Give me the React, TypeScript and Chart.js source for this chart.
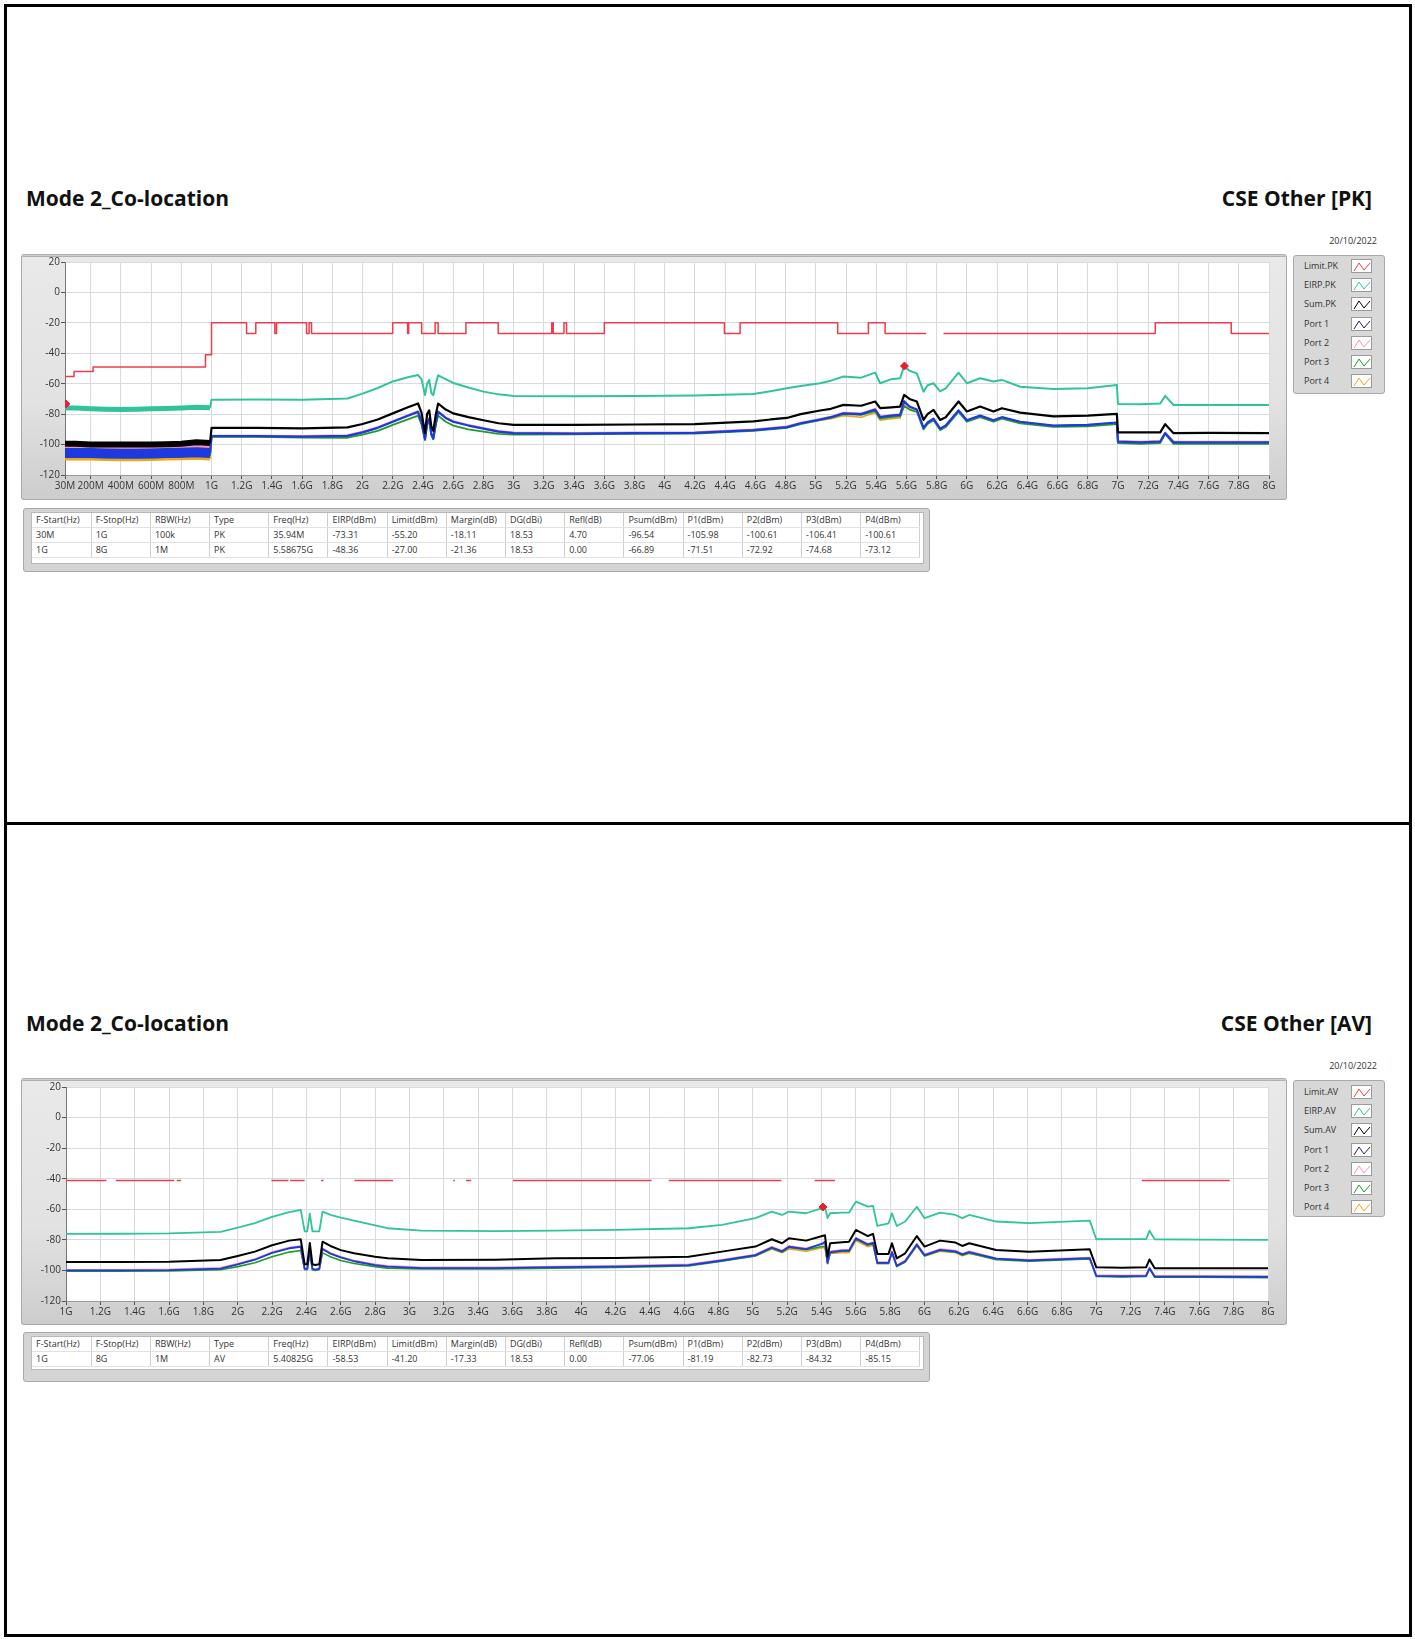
import React, { useEffect, useRef } from 'react';
import { Chart, registerables } from 'chart.js';
Chart.register(...registerables);

// ---------------- tick labels ----------------
const subGigaTickValues = [0.03, 0.2, 0.4, 0.6, 0.8];
const subGigaTickLabels = ['30M', '200M', '400M', '600M', '800M'];
const gigaTickValues = [1, 1.2, 1.4, 1.6, 1.8, 2, 2.2, 2.4, 2.6, 2.8, 3, 3.2, 3.4, 3.6, 3.8, 4, 4.2, 4.4, 4.6, 4.8, 5, 5.2, 5.4, 5.6, 5.8, 6, 6.2, 6.4, 6.6, 6.8, 7, 7.2, 7.4, 7.6, 7.8, 8];
const gigaTickLabels = ['1G', '1.2G', '1.4G', '1.6G', '1.8G', '2G', '2.2G', '2.4G', '2.6G', '2.8G', '3G', '3.2G', '3.4G', '3.6G', '3.8G', '4G', '4.2G', '4.4G', '4.6G', '4.8G', '5G', '5.2G', '5.4G', '5.6G', '5.8G', '6G', '6.2G', '6.4G', '6.6G', '6.8G', '7G', '7.2G', '7.4G', '7.6G', '7.8G', '8G'];
const yTickValues = [20, 0, -20, -40, -60, -80, -100, -120];

// ---------------- PK chart (30 MHz - 8 GHz) ----------------
const pkFreqGHz = [0.03, 0.1, 0.2, 0.3, 0.4, 0.5, 0.6, 0.7, 0.8, 0.9, 0.99,
  1.0, 1.3, 1.6, 1.9, 2.0, 2.1, 2.2, 2.3, 2.367, 2.39, 2.413, 2.427, 2.441, 2.455, 2.468, 2.485, 2.5, 2.55, 2.6, 2.7, 2.8, 2.9, 3.0, 3.4, 3.8, 4.2, 4.587, 4.7, 4.808, 4.9, 5.029, 5.1, 5.183, 5.3, 5.393, 5.426, 5.5, 5.558, 5.585, 5.62, 5.669, 5.713, 5.74, 5.779, 5.823, 5.86, 5.945, 6.0, 6.088, 6.176, 6.232, 6.353, 6.574, 6.8, 6.993, 7.0, 7.15, 7.28, 7.313, 7.368, 7.6, 8.0];
const pkEirp = [-76, -76, -76.5, -76.8, -77, -76.8, -76.5, -76.3, -76, -75.5, -75.8,
  -70.5, -70.3, -70.5, -69.7, -66.5, -62.8, -58.5, -55.8, -54.3, -57, -67.5, -60, -57.5, -66, -67.5, -60, -54.5, -57, -59.5, -62.5, -65.2, -67, -68, -68.3, -68, -67.7, -66.7, -65, -63, -61.5, -59.7, -58, -55.3, -56, -52.7, -59.7, -57, -56.4, -48.4, -51.5, -53.2, -65.2, -61, -59.7, -65, -63, -52.7, -59.7, -56.4, -58.6, -57.5, -62, -63.4, -63, -60.8, -73.3, -73.5, -73, -68, -74, -74, -74];
const pkSum = [-99.5, -99.5, -100, -100, -100, -100, -100, -99.8, -99.5, -98.5, -99,
  -89, -89, -89.3, -88.7, -86.5, -83.5, -79.5, -75.5, -73, -79, -92.5, -80, -77.5, -88, -91, -80, -73, -77, -79.5, -82, -84, -86, -87, -87, -86.8, -86.5, -84.8, -83.5, -82.5, -80, -77.6, -76.5, -73.9, -74.5, -71.7, -76.1, -75.5, -75, -67.4, -70, -71.7, -83.8, -80, -77.2, -83.8, -82, -71.7, -78.3, -75, -78.3, -76.1, -79, -81.5, -81, -79.8, -92, -92, -92, -86.6, -92.5, -92.3, -92.5];
const pkPort1 = [-105.5, -105.5, -105.5, -105.8, -106, -106, -105.8, -105.5, -105.3, -105, -105.5,
  -94.5, -94.5, -94.8, -94.3, -92, -89, -85, -81, -78.5, -85, -96.5, -86, -83, -93, -96, -85.5, -78.5, -82.5, -85, -87.5, -89.5, -91.5, -92.5, -92.8, -92.5, -92.3, -90.5, -89.5, -88.5, -86, -83.5, -82, -79.5, -80, -77, -82, -81, -80.5, -71.5, -75, -77, -89, -85.5, -83, -89.5, -87.5, -77.5, -84, -81, -84, -82, -85, -87.5, -87, -85.5, -98, -98.5, -98, -92.5, -98.5, -98.5, -98.5];
const pkPort2 = [-102, -102, -102.2, -102.3, -102.5, -102.5, -102.3, -102, -102, -101.5, -102,
  -94, -94, -94.3, -93.8, -91.5, -88.5, -84.5, -80.5, -78, -84.5, -96, -85.5, -82.5, -92.5, -95.5, -85, -78, -82, -84.5, -87, -89, -91, -92, -92.3, -92, -91.8, -90, -89, -88, -85.5, -83, -81.5, -79, -79.5, -76.5, -81.5, -80.5, -80, -72.9, -75.5, -77.5, -89, -85.5, -83, -89.5, -87.5, -77.5, -84, -81, -84, -82, -85, -87.5, -87, -85.5, -97.5, -98, -97.5, -92, -98, -98, -98];
const pkPort3 = [-107.5, -107.5, -107.8, -108, -108, -108, -108, -107.8, -107.5, -107, -107.5,
  -95, -95, -95.5, -95.5, -93.5, -91, -87, -83.5, -81, -87, -97, -87, -85, -94, -96.5, -87, -81, -85, -87.5, -90, -91.5, -93, -93.5, -93.3, -93, -92.8, -91, -90, -89, -86.5, -84, -82.5, -80, -80.5, -78, -83, -82, -81.5, -74.7, -77, -78.5, -90, -86.5, -84, -90.5, -88.5, -78.5, -85, -82, -85, -83, -86, -88.3, -88, -86.5, -99, -99.5, -99, -93, -99.5, -99.5, -99.5];
const pkPort4 = [-109.5, -109.5, -109.5, -109.8, -110, -110, -109.8, -109.5, -109.3, -109, -109.5,
  -94.5, -94.5, -94.8, -94.3, -92, -89, -85, -81, -78.5, -85, -96.5, -86, -83, -93, -96, -85.5, -78.5, -82.5, -85, -87.5, -89.5, -91.5, -92.5, -92.8, -92.5, -92.3, -90.5, -89.5, -88.5, -86, -84, -83, -81, -82, -79, -84, -83, -82.5, -73.1, -76, -78, -89.5, -86, -83.5, -90, -88, -78, -84.5, -81.5, -84.5, -82.5, -85.5, -88, -87.5, -86, -98, -98.5, -98, -92.5, -98.5, -98.5, -98.5];
// step limit: each value holds from its frequency up to the next one
const pkLimitFreq = [0.03, 0.09, 0.216, 0.96, 1.0, 1.232, 1.293, 1.419, 1.43, 1.629, 1.646, 1.662, 2.199, 2.298, 2.305, 2.391, 2.48, 2.5, 2.684, 2.898, 3.252, 3.262, 3.333, 3.35, 3.6, 4.395, 4.499, 5.145, 5.348, 5.459, 5.73, 5.74, 5.845, 7.247, 7.75, 8.0];
const pkLimitVal = [-55.2, -52, -49, -41, -20, -27, -20, -27, -20, -27, -20, -27, -20, -27, -20, -27, -20, -27, -20, -27, -20, -27, -20, -27, -20, -27, -20, -27, -20, -27, -27, null, -27, -20, -27, -27];
const pkMarkerFreq = [0.03594, 5.58675];
const pkMarkerVal = [-73.31, -48.36];

// ---------------- AV chart (1 GHz - 8 GHz) ----------------
const avFreqGHz = [1.0, 1.3, 1.6, 1.9, 2.0, 2.1, 2.2, 2.3, 2.367, 2.39, 2.405, 2.42, 2.435, 2.45, 2.475, 2.494, 2.54, 2.6, 2.678, 2.8, 2.873, 3.07, 3.5, 3.85, 4.2, 4.626, 4.82, 5.015, 5.11, 5.17, 5.21, 5.31, 5.404, 5.42, 5.435, 5.45, 5.52, 5.56, 5.6, 5.67, 5.7, 5.725, 5.79, 5.81, 5.838, 5.887, 5.955, 6.0, 6.09, 6.18, 6.22, 6.26, 6.417, 6.61, 6.962, 7.0, 7.15, 7.29, 7.31, 7.34, 7.6, 8.0];
const avEirp = [-76.1, -76, -75.8, -74.8, -72, -69, -65, -61.8, -60.4, -74.5, -74.5, -62.8, -74.5, -74.5, -74.5, -61.5, -63.7, -65.5, -67.4, -70.5, -72.4, -74, -74.3, -74, -73.5, -72.4, -70.2, -65.8, -61.5, -63.7, -61.5, -62.6, -59.3, -58.5, -65.8, -62.6, -62.2, -62.2, -55, -58.3, -57.8, -70.9, -69.2, -62.6, -70.9, -68, -58.3, -65.8, -62.2, -63.7, -65.8, -63.7, -68, -69.1, -67.4, -79.6, -79.5, -79.5, -74, -79.6, -79.8, -80];
const avSum = [-94.5, -94.5, -94.3, -93.2, -90.5, -87.7, -83.5, -80.5, -79.6, -96, -96, -82, -96, -96.5, -96, -81.2, -84, -86.7, -88.8, -91, -92.1, -93.2, -93, -92.1, -91.8, -91, -87.7, -84.4, -79.6, -82.2, -79, -80.5, -77.5, -77, -91, -82.2, -81.5, -81.2, -73.5, -77.5, -76.1, -89.2, -89.2, -82.2, -92.1, -88.8, -77.5, -84.4, -80.5, -81.8, -84, -82.2, -86.6, -87.7, -86.2, -98, -98.3, -98, -92.8, -98.5, -98.5, -98.5];
const avPort1 = [-100, -100, -99.8, -98.8, -96, -93, -88.5, -85.5, -84.5, -99, -99, -86.5, -99, -99.5, -99, -86, -89, -91.5, -94, -96.5, -97.5, -98.5, -98.5, -97.8, -97.5, -96.5, -93.5, -90, -85, -87.5, -84.5, -86, -82.5, -81.2, -95, -88, -87, -87, -79, -83, -82, -95, -95, -88, -97, -94, -83, -90, -86.5, -87.5, -89.5, -88, -92.3, -93.5, -92, -103.5, -103.8, -103.5, -98.5, -104, -104, -104.2];
const avPort2 = [-99.5, -99.5, -99.3, -98.3, -95.5, -92.5, -88, -85, -84, -99, -99, -86, -99, -99.5, -99, -85.5, -88.5, -91, -93.5, -96, -97, -98, -98, -97.5, -97, -96, -93, -89.5, -84.5, -87, -84, -85.5, -82.7, -82.7, -95, -87.5, -86.5, -86.5, -78.5, -82.5, -81.5, -94.5, -94.5, -87.5, -96.5, -93.5, -82.5, -89.5, -86, -87, -89, -87.5, -92, -93, -91.5, -103, -103.3, -103, -98, -103.5, -103.5, -103.7];
const avPort3 = [-100.5, -100.5, -100.3, -99.5, -97.5, -95, -91, -88, -87, -99.5, -99.5, -89, -99.5, -100, -99.5, -88.5, -91, -93.5, -95.5, -97.5, -98.5, -99, -99, -98.5, -98, -97, -94, -90.5, -85.5, -88, -85, -86.5, -84.3, -84.3, -95.5, -88.5, -87.5, -87.5, -79.5, -83.5, -82.5, -95.5, -95.5, -88.5, -97.5, -94.5, -83.5, -90.5, -87, -88, -90, -88.5, -93, -94, -92.5, -104, -104.3, -104, -99, -104.5, -104.5, -104.7];
const avPort4 = [-100, -100, -99.8, -98.8, -96, -93, -88.5, -85.5, -84.5, -99, -99, -86.5, -99, -99.5, -99, -86, -89, -91.5, -94, -96.5, -97.5, -98.5, -98.5, -97.8, -97.5, -96.5, -93.5, -90.5, -86, -88.5, -86, -87.5, -85.2, -85.1, -95.5, -89, -88.5, -88.5, -80.5, -84.5, -83.5, -95.5, -95.5, -89, -97, -94.5, -84, -90.5, -87.5, -88.5, -90.5, -89, -92.5, -93.5, -92, -103.5, -103.8, -103.5, -98.5, -104, -104, -104.2];
const avLimitLevel = -41.2;
const avLimitStart = [1.0, 1.29, 1.645, 2.196, 2.305, 2.485, 2.68, 3.255, 3.33, 3.603, 4.51, 5.36, 7.265];
const avLimitEnd = [1.235, 1.63, 1.67, 2.295, 2.39, 2.5, 2.905, 3.265, 3.36, 4.41, 5.166, 5.478, 7.777];
const avMarkerFreq = [5.40825];
const avMarkerVal = [-58.53];

// ---------------- tables / legends ----------------
const tableHeaders = ['F-Start(Hz)', 'F-Stop(Hz)', 'RBW(Hz)', 'Type', 'Freq(Hz)', 'EIRP(dBm)', 'Limit(dBm)', 'Margin(dB)', 'DG(dBi)', 'Refl(dB)', 'Psum(dBm)', 'P1(dBm)', 'P2(dBm)', 'P3(dBm)', 'P4(dBm)'];
const pkTableRow1 = ['30M', '1G', '100k', 'PK', '35.94M', '-73.31', '-55.20', '-18.11', '18.53', '4.70', '-96.54', '-105.98', '-100.61', '-106.41', '-100.61'];
const pkTableRow2 = ['1G', '8G', '1M', 'PK', '5.58675G', '-48.36', '-27.00', '-21.36', '18.53', '0.00', '-66.89', '-71.51', '-72.92', '-74.68', '-73.12'];
const avTableRow1 = ['1G', '8G', '1M', 'AV', '5.40825G', '-58.53', '-41.20', '-17.33', '18.53', '0.00', '-77.06', '-81.19', '-82.73', '-84.32', '-85.15'];
const pkLegendLabels = ['Limit.PK', 'EIRP.PK', 'Sum.PK', 'Port 1', 'Port 2', 'Port 3', 'Port 4'];
const avLegendLabels = ['Limit.AV', 'EIRP.AV', 'Sum.AV', 'Port 1', 'Port 2', 'Port 3', 'Port 4'];

const COLORS = {
  limit: '#f03c4a',
  eirp: '#30c49c',
  sum: '#000000',
  port1: '#1c3ade',
  port2: '#ff8fb2',
  port3: '#1e9c28',
  port4: '#f0a418',
  marker: '#e8202e',
};
const legendColors = [COLORS.limit, COLORS.eirp, COLORS.sum, '#202060', COLORS.port2, COLORS.port3, COLORS.port4];

const FONT = "'Open Sans', 'Noto Sans', 'DejaVu Sans', sans-serif";
const SUB_GIGA_END = 0.985;

const plotBackground = {
  id: 'plotBackground',
  beforeDraw(chart: any) {
    const { ctx, chartArea: a } = chart;
    ctx.save();
    ctx.fillStyle = '#ffffff';
    ctx.fillRect(a.left, a.top, a.right - a.left, a.bottom - a.top);
    ctx.restore();
  },
};

function pts(xs: number[], ys: (number | null)[]) {
  return xs.map((x, i) => ({ x, y: ys[i] }));
}

function trace(label: string, xs: number[], ys: (number | null)[], color: string, width: number, lowWidth?: number) {
  const ds: any = {
    label,
    data: pts(xs, ys),
    borderColor: color,
    backgroundColor: color,
    borderWidth: width,
    pointRadius: 0,
    tension: 0,
    fill: false,
    spanGaps: false,
    borderJoinStyle: 'round',
  };
  if (lowWidth) {
    ds.segment = { borderWidth: (c: any) => (c.p0.parsed.x < SUB_GIGA_END ? lowWidth : undefined) };
  }
  return ds;
}

function buildOptions(xMin: number, xMax: number, ticks: number[], labels: string[], yWidth: number, xHeight: number, padTop: number, padRight: number) {
  const gridColor = '#dadada';
  return {
    animation: false,
    responsive: false,
    events: [],
    layout: { padding: { top: padTop, right: padRight, left: 0, bottom: 0 } },
    plugins: { legend: { display: false }, tooltip: { enabled: false } },
    scales: {
      x: {
        type: 'linear',
        min: xMin,
        max: xMax,
        grid: { color: gridColor, tickColor: '#555', tickLength: 4, drawTicks: true },
        border: { display: true, color: '#9a9a9a' },
        afterBuildTicks: (s: any) => { s.ticks = ticks.map((v) => ({ value: v })); },
        afterFit: (s: any) => { s.height = xHeight; },
        ticks: {
          autoSkip: false,
          maxRotation: 0,
          padding: 1,
          color: '#333',
          font: { family: FONT, size: 10 },
          callback: (_v: any, i: number) => labels[i],
        },
      },
      y: {
        type: 'linear',
        min: -120,
        max: 20,
        grid: { color: gridColor, tickColor: '#555', tickLength: 4, drawTicks: true },
        border: { display: true, color: '#777' },
        afterBuildTicks: (s: any) => { s.ticks = yTickValues.map((v) => ({ value: v })); },
        afterFit: (s: any) => { s.width = yWidth; },
        ticks: {
          padding: 1,
          color: '#333',
          font: { family: FONT, size: 10 },
          callback: (v: any) => String(v),
        },
      },
    },
  };
}

function markerDs(xs: number[], ys: number[]) {
  return {
    label: 'marker',
    data: pts(xs, ys),
    showLine: false,
    pointStyle: 'rectRot',
    pointRadius: 4,
    pointBackgroundColor: COLORS.marker,
    pointBorderColor: COLORS.marker,
    borderColor: COLORS.marker,
  };
}

function pkConfig(): any {
  const ticks = [...subGigaTickValues, ...gigaTickValues];
  const labels = [...subGigaTickLabels, ...gigaTickLabels];
  return {
    type: 'line',
    data: {
      datasets: [
        markerDs(pkMarkerFreq, pkMarkerVal),
        { ...trace('Limit.PK', pkLimitFreq, pkLimitVal, COLORS.limit, 1.5), stepped: 'before' },
        trace('EIRP.PK', pkFreqGHz, pkEirp, COLORS.eirp, 2, 5),
        trace('Sum.PK', pkFreqGHz, pkSum, COLORS.sum, 2.2, 6),
        trace('Port 1', pkFreqGHz, pkPort1, COLORS.port1, 2.2, 10),
        trace('Port 2', pkFreqGHz, pkPort2, COLORS.port2, 1.6, 3),
        trace('Port 3', pkFreqGHz, pkPort3, COLORS.port3, 1.8, 3),
        trace('Port 4', pkFreqGHz, pkPort4, COLORS.port4, 1.6, 3),
      ],
    },
    options: buildOptions(0.03, 8, ticks, labels, 44, 25, 8, 18),
    plugins: [plotBackground],
  };
}

function avConfig(): any {
  const limitPts = avLimitStart.flatMap((s, i) => [
    { x: s, y: avLimitLevel },
    { x: avLimitEnd[i], y: avLimitLevel },
    { x: avLimitEnd[i] + 0.001, y: null },
  ]);
  return {
    type: 'line',
    data: {
      datasets: [
        markerDs(avMarkerFreq, avMarkerVal),
        { label: 'Limit.AV', data: limitPts, borderColor: COLORS.limit, borderWidth: 1.5, pointRadius: 0, spanGaps: false, fill: false },
        trace('EIRP.AV', avFreqGHz, avEirp, COLORS.eirp, 1.8),
        trace('Sum.AV', avFreqGHz, avSum, COLORS.sum, 2),
        trace('Port 1', avFreqGHz, avPort1, COLORS.port1, 1.8),
        trace('Port 2', avFreqGHz, avPort2, COLORS.port2, 1.5),
        trace('Port 3', avFreqGHz, avPort3, COLORS.port3, 1.6),
        trace('Port 4', avFreqGHz, avPort4, COLORS.port4, 1.5),
      ],
    },
    options: buildOptions(1, 8, gigaTickValues, gigaTickLabels, 45, 24, 9, 19),
    plugins: [plotBackground],
  };
}

function ChartPanel({ left, top, width, height, config }: { left: number; top: number; width: number; height: number; config: () => any }) {
  const ref = useRef<HTMLCanvasElement>(null);
  useEffect(() => {
    const chart = new Chart(ref.current as HTMLCanvasElement, config());
    return () => chart.destroy();
  }, []);
  return (
    <div
      style={{
        position: 'absolute', left, top, width, height, boxSizing: 'border-box',
        background: 'linear-gradient(to bottom, #e9e9e9 0%, #e2e2e2 60%, #cdcdcd 100%)',
        border: '1px solid #a9a9a9', borderTop: '3px double #b0b0b0', borderRadius: 3,
      }}
    >
      <canvas ref={ref} width={width} height={height} style={{ position: 'absolute', left: -1, top: -3, width, height }} />
    </div>
  );
}

function Legend({ left, top, height, labels, firstRow }: { left: number; top: number; height: number; labels: string[]; firstRow: number }) {
  return (
    <div
      style={{
        position: 'absolute', left, top, width: 92, height, boxSizing: 'border-box',
        background: '#d8d8d8', border: '1px solid #a9a9a9', borderRadius: 3,
      }}
    >
      {labels.map((lab, i) => (
        <div key={lab} style={{ position: 'absolute', left: 0, top: firstRow + i * 19.2 - 7, width: 90, height: 14 }}>
          <div style={{ position: 'absolute', left: 10, top: 0, lineHeight: '14px', font: `9px ${FONT}`, color: '#333', whiteSpace: 'nowrap' }}>{lab}</div>
          <svg width={21} height={14} style={{ position: 'absolute', left: 57, top: 0, background: '#fff', border: '1px solid #9a9a9a', boxSizing: 'border-box' }}>
            <polyline points="2,11 7,3 12,10 18,3" fill="none" stroke={legendColors[i]} strokeWidth={1} />
          </svg>
        </div>
      ))}
    </div>
  );
}

function DataTable({ top, height, innerHeight, rows }: { top: number; height: number; innerHeight: number; rows: string[][] }) {
  const colW = 59.2;
  const cell: React.CSSProperties = {
    width: colW, height: 14.6, padding: '0 0 0 4px', boxSizing: 'border-box', font: `9px ${FONT}`, color: '#333',
    lineHeight: '14px', whiteSpace: 'nowrap', overflow: 'hidden', borderRight: '1px solid #cfcfcf', borderBottom: '1px solid #e2e2e2',
    textAlign: 'left',
  };
  return (
    <div
      style={{
        position: 'absolute', left: 23, top, width: 907, height, boxSizing: 'border-box',
        background: '#d4d4d4', border: '1px solid #a9a9a9', borderRadius: 3,
      }}
    >
      <div style={{ position: 'absolute', left: 7, top: 3, width: 893, height: innerHeight, background: '#fff', border: '1px solid #b8b8b8', boxSizing: 'border-box' }}>
        <table style={{ borderCollapse: 'collapse', tableLayout: 'fixed', width: colW * 15 }}>
          <tbody>
            {[tableHeaders, ...rows].map((r, ri) => (
              <tr key={ri}>
                {r.map((c, ci) => (
                  <td key={ci} style={cell}>{c}</td>
                ))}
              </tr>
            ))}
          </tbody>
        </table>
      </div>
    </div>
  );
}

function Titles({ top, mode, dateTop }: { top: number; mode: string; dateTop: number }) {
  return (
    <>
      <div style={{ position: 'absolute', left: 26, top, font: `bold 21px ${FONT}`, lineHeight: '24px', color: '#111', whiteSpace: 'nowrap' }}>Mode 2_Co-location</div>
      <div style={{ position: 'absolute', left: 1000, width: 372, top, font: `bold 21px ${FONT}`, lineHeight: '24px', color: '#111', textAlign: 'right', whiteSpace: 'nowrap' }}>{mode}</div>
      <div style={{ position: 'absolute', left: 1277, width: 100, top: dateTop, font: `9px ${FONT}`, lineHeight: '12px', color: '#333', textAlign: 'right' }}>20/10/2022</div>
    </>
  );
}

export default function App() {
  return (
    <div style={{ position: 'absolute', left: 0, top: 0, width: 1415, height: 1639, background: '#fff', overflow: 'hidden' }}>
      <div style={{ position: 'absolute', left: 4, top: 4, width: 1408, height: 1633, border: '3px solid #000', boxSizing: 'border-box' }} />
      <div style={{ position: 'absolute', left: 4, top: 822, width: 1408, height: 3, background: '#000' }} />

      <Titles top={186} mode="CSE Other [PK]" dateTop={235} />
      <ChartPanel left={21} top={254} width={1266} height={246} config={pkConfig} />
      <Legend left={1293} top={255} height={139} labels={pkLegendLabels} firstRow={10} />
      <DataTable top={508} height={64} innerHeight={52} rows={[pkTableRow1, pkTableRow2]} />

      <Titles top={1011} mode="CSE Other [AV]" dateTop={1060} />
      <ChartPanel left={21} top={1078} width={1266} height={247} config={avConfig} />
      <Legend left={1293} top={1080} height={137} labels={avLegendLabels} firstRow={11} />
      <DataTable top={1332} height={50} innerHeight={34} rows={[avTableRow1]} />
    </div>
  );
}
